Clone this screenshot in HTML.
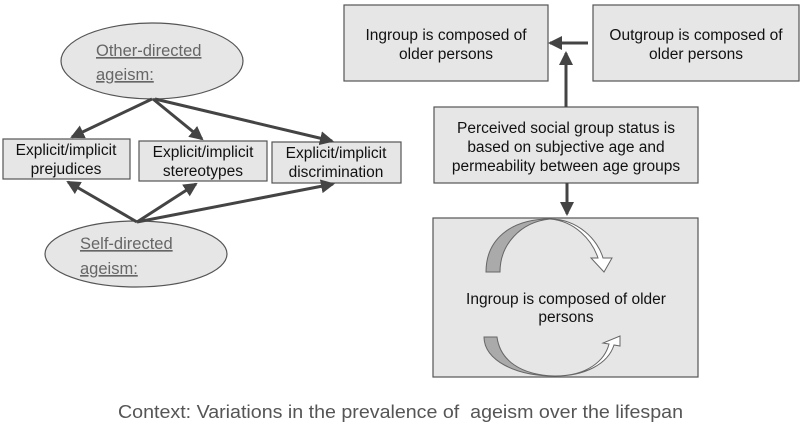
<!DOCTYPE html>
<html><head><style>body{margin:0;background:#fff}svg{display:block}</style></head><body>
<svg width="800" height="429" viewBox="0 0 800 429" xmlns="http://www.w3.org/2000/svg" font-family="Liberation Sans, Arial, sans-serif">
<defs>
<marker id="b" markerWidth="14" markerHeight="14" refX="12" refY="7" orient="auto" markerUnits="userSpaceOnUse"><path d="M0,0 L14,7 L0,14 z" fill="#444"/></marker>
</defs>
<g stroke="#555" stroke-width="1.2" fill="#e6e6e6">
<ellipse cx="152" cy="61" rx="91" ry="38"/>
<ellipse cx="136" cy="254" rx="91" ry="33"/>
<rect x="3" y="139" width="127" height="40"/>
<rect x="139" y="141" width="128" height="40"/>
<rect x="272" y="142" width="129" height="41"/>
<rect x="344" y="5" width="204" height="76"/>
<rect x="593" y="5" width="206" height="76"/>
<rect x="434" y="107" width="264" height="76"/>
<rect x="433" y="218" width="265" height="159"/>
</g>
<g stroke="#444" stroke-width="3" fill="none">
<line x1="152" y1="99" x2="72" y2="137" marker-end="url(#b)"/>
<line x1="153" y1="99" x2="202" y2="139" marker-end="url(#b)"/>
<line x1="155" y1="99" x2="332" y2="141" marker-end="url(#b)"/>
<line x1="137" y1="222" x2="68" y2="182" marker-end="url(#b)"/>
<line x1="137" y1="222" x2="196" y2="184" marker-end="url(#b)"/>
<line x1="137" y1="222" x2="333" y2="184" marker-end="url(#b)"/>
<line x1="588" y1="43" x2="550" y2="43" marker-end="url(#b)"/>
<line x1="566" y1="107" x2="566" y2="53" marker-end="url(#b)"/>
<line x1="567" y1="183" x2="567" y2="214" marker-end="url(#b)"/>
</g>
<path d="M486,272 C486,240 510,219 550,219 C520,222 500,245 500,272 Z" fill="#aaa" stroke="#666" stroke-width="1"/>
<path d="M550,219 C578,219 598,240 603,258 L612,258 L604,272 L591,258 L598,258 C592,240 575,221 550,219 Z" fill="#fff" stroke="#666" stroke-width="1"/>
<path d="M484,337 L497,337 C500,360 520,375 555,376 C515,376 484,360 484,337 Z" fill="#aaa" stroke="#666" stroke-width="1"/>
<path d="M555,376 C588,376 605,360 609,344 L603,343 L620,336 L620,346 L614,345 C608,364 585,376 555,376 Z" fill="#fff" stroke="#666" stroke-width="1"/>
<g fill="#111" font-size="15.5" text-anchor="middle">
<text x="66" y="155">Explicit/implicit</text><text x="66" y="174">prejudices</text>
<text x="203" y="157">Explicit/implicit</text><text x="203" y="176">stereotypes</text>
<text x="336" y="158">Explicit/implicit</text><text x="336" y="177">discrimination</text>
<text x="446" y="40">Ingroup is composed of</text><text x="446" y="59">older persons</text>
<text x="696" y="40">Outgroup is composed of</text><text x="696" y="59">older persons</text>
<text x="566" y="133">Perceived social group status is</text>
<text x="566" y="152">based on subjective age and</text>
<text x="566" y="171">permeability between age groups</text>
<text x="566" y="304">Ingroup is composed of older</text>
<text x="566" y="322">persons</text>
</g>
<g fill="#666" font-size="16.5" text-decoration="underline">
<text x="96" y="56">Other-directed</text><text x="96" y="80">ageism:</text>
<text x="80" y="249">Self-directed</text><text x="80" y="274">ageism:</text>
</g>
<text x="118" y="418" font-size="18" fill="#555" textLength="565" lengthAdjust="spacingAndGlyphs">Context: Variations in the prevalence of&#160; ageism over the lifespan</text>
</svg>
</body></html>
